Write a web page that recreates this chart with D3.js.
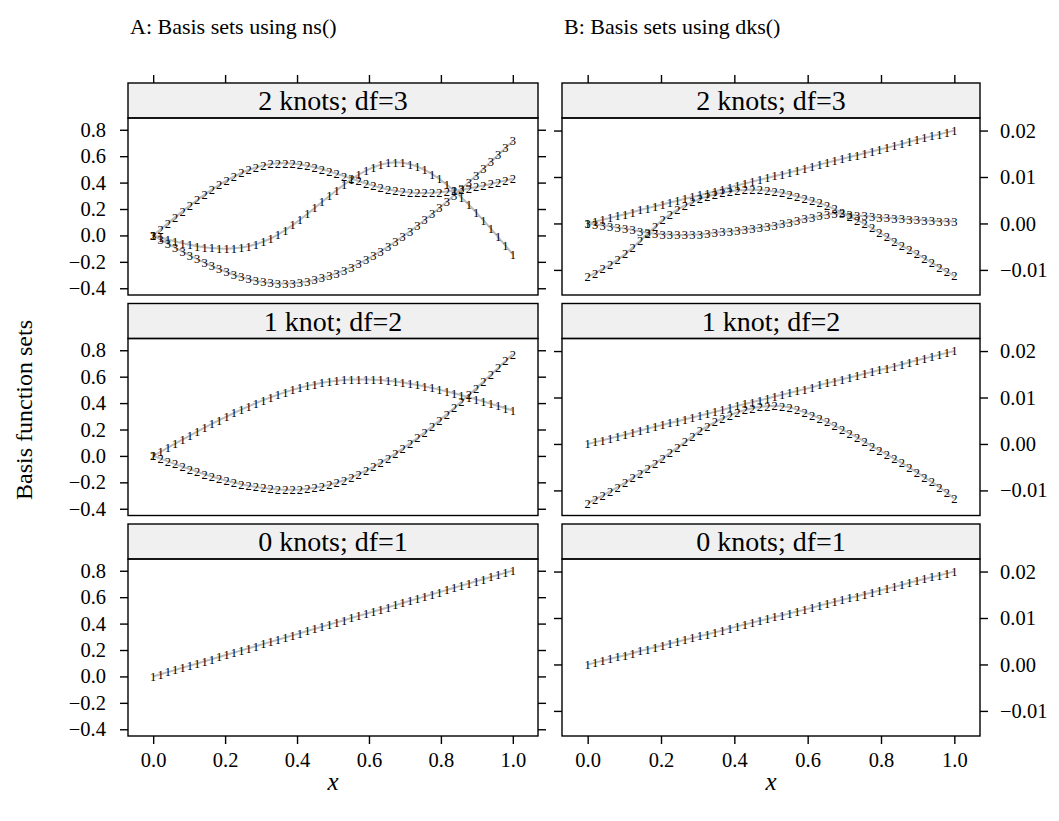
<!DOCTYPE html>
<html><head><meta charset="utf-8">
<script src="https://cdn.jsdelivr.net/npm/d3@7"></script>
<style>body{margin:0;background:#fff}svg{display:block}</style>
</head><body>
<svg id="chart" width="1059" height="821"></svg>
<script>
// ---------- data ----------
const xVals = [0,0.0204,0.0408,0.0612,0.0816,0.102,0.1224,0.1429,0.1633,0.1837,0.2041,0.2245,0.2449,0.2653,0.2857,0.3061,0.3265,0.3469,0.3673,0.3878,0.4082,0.4286,0.449,0.4694,0.4898,0.5102,0.5306,0.551,0.5714,0.5918,0.6122,0.6327,0.6531,0.6735,0.6939,0.7143,0.7347,0.7551,0.7755,0.7959,0.8163,0.8367,0.8571,0.8776,0.898,0.9184,0.9388,0.9592,0.9796,1];
const xTicks = [0, 0.2, 0.4, 0.6, 0.8, 1.0];
const yTicksA = [-0.4, -0.2, 0, 0.2, 0.4, 0.6, 0.8];
const yTicksB = [-0.01, 0, 0.01, 0.02];
const stripLabels = ["2 knots; df=3", "1 knot; df=2", "0 knots; df=1"];
const titles = ["A: Basis sets using ns()", "B: Basis sets using dks()"];

// A: ns()
const ns3_1 = [0,-0.0155,-0.0306,-0.0451,-0.0586,-0.0708,-0.0813,-0.0898,-0.0961,-0.0997,-0.1003,-0.0977,-0.0914,-0.0812,-0.0666,-0.0475,-0.0234,0.0058,0.0399,0.078,0.1192,0.1626,0.2075,0.253,0.2982,0.3423,0.3845,0.4238,0.4595,0.4907,0.5166,0.5363,0.5489,0.5536,0.5502,0.539,0.5205,0.4954,0.464,0.4269,0.3847,0.3378,0.2868,0.2321,0.1744,0.114,0.0516,-0.0124,-0.0773,-0.1429];
const ns3_2 = [0,0.0465,0.0927,0.1384,0.1831,0.2266,0.2686,0.3088,0.347,0.3827,0.4157,0.4457,0.4724,0.4956,0.5148,0.5298,0.5403,0.5461,0.5473,0.5444,0.5378,0.5281,0.5157,0.5011,0.4848,0.4671,0.4488,0.43,0.4115,0.3936,0.3768,0.3616,0.3484,0.3379,0.33,0.3248,0.322,0.3214,0.323,0.3265,0.3317,0.3385,0.3467,0.3561,0.3666,0.378,0.39,0.4026,0.4155,0.4286];
const ns3_3 = [0,-0.031,-0.0618,-0.0922,-0.1221,-0.1511,-0.1791,-0.2059,-0.2313,-0.2551,-0.2771,-0.2972,-0.315,-0.3304,-0.3432,-0.3532,-0.3602,-0.3641,-0.3647,-0.3622,-0.3567,-0.3482,-0.3368,-0.3227,-0.3059,-0.2865,-0.2646,-0.2403,-0.2136,-0.1847,-0.1536,-0.1204,-0.0852,-0.0482,-0.0093,0.0313,0.0735,0.1171,0.1621,0.2083,0.2557,0.3041,0.3534,0.4035,0.4542,0.5056,0.5574,0.6095,0.6618,0.7143];
const ns2_1 = [0,0.0311,0.0622,0.0931,0.1238,0.1541,0.1841,0.2135,0.2424,0.2706,0.2982,0.3249,0.3507,0.3756,0.3994,0.4221,0.4436,0.4638,0.4827,0.5001,0.5159,0.5302,0.5428,0.5536,0.5625,0.5695,0.5746,0.5779,0.5794,0.5791,0.5773,0.574,0.5692,0.563,0.5556,0.5469,0.5371,0.5263,0.5145,0.5018,0.4883,0.4741,0.4593,0.4439,0.428,0.4117,0.3951,0.3782,0.3612,0.3441];
const ns2_2 = [0,-0.0208,-0.0414,-0.0618,-0.0818,-0.1013,-0.1203,-0.1385,-0.1558,-0.1722,-0.1875,-0.2015,-0.2142,-0.2255,-0.2352,-0.2432,-0.2493,-0.2535,-0.2557,-0.2556,-0.2533,-0.2485,-0.2412,-0.2311,-0.2183,-0.2026,-0.184,-0.1625,-0.1384,-0.1118,-0.0827,-0.0512,-0.0176,0.018,0.0556,0.0951,0.1362,0.1789,0.2231,0.2686,0.3154,0.3632,0.412,0.4616,0.512,0.563,0.6145,0.6663,0.7184,0.7706];
const ns1_1 = [0,0.0164,0.0327,0.0491,0.0655,0.0818,0.0982,0.1145,0.1309,0.1473,0.1636,0.18,0.1964,0.2127,0.2291,0.2454,0.2618,0.2782,0.2945,0.3109,0.3273,0.3436,0.36,0.3763,0.3927,0.4091,0.4254,0.4418,0.4582,0.4745,0.4909,0.5073,0.5236,0.54,0.5563,0.5727,0.5891,0.6054,0.6218,0.6382,0.6545,0.6709,0.6872,0.7036,0.72,0.7363,0.7527,0.7691,0.7854,0.8018];

// B: dks()
const dks_1 = [0,0.0004,0.0008,0.0012,0.0016,0.002,0.0024,0.0029,0.0033,0.0037,0.0041,0.0045,0.0049,0.0053,0.0057,0.0061,0.0065,0.0069,0.0073,0.0078,0.0082,0.0086,0.009,0.0094,0.0098,0.0102,0.0106,0.011,0.0114,0.0118,0.0122,0.0127,0.0131,0.0135,0.0139,0.0143,0.0147,0.0151,0.0155,0.0159,0.0163,0.0167,0.0171,0.0176,0.018,0.0184,0.0188,0.0192,0.0196,0.02];
const dks3_2 = [-0.0115,-0.0107,-0.0098,-0.0089,-0.0078,-0.0066,-0.0052,-0.0037,-0.0022,-0.0007,0.0008,0.0019,0.003,0.0039,0.0046,0.0053,0.0058,0.0063,0.0066,0.0069,0.0071,0.0072,0.0073,0.0072,0.0071,0.0069,0.0066,0.0063,0.0058,0.0054,0.0049,0.0044,0.0038,0.0031,0.0023,0.0015,0.0007,-0.0001,-0.001,-0.002,-0.0029,-0.0039,-0.0048,-0.0057,-0.0066,-0.0075,-0.0085,-0.0094,-0.0104,-0.0113];
const dks3_3 = [0,-0.0002,-0.0004,-0.0006,-0.0009,-0.0011,-0.0014,-0.0017,-0.002,-0.0022,-0.0023,-0.0024,-0.0025,-0.0025,-0.0024,-0.0024,-0.0022,-0.002,-0.0018,-0.0017,-0.0015,-0.0013,-0.0011,-0.0009,-0.0006,-0.0004,-0.0001,0.0002,0.0006,0.001,0.0013,0.0016,0.0019,0.0022,0.0021,0.0019,0.0017,0.0016,0.0015,0.0013,0.0012,0.0011,0.001,0.0009,0.0008,0.0007,0.0006,0.0005,0.0005,0.0004];
const dks2_2 = [-0.0128,-0.0119,-0.0111,-0.0102,-0.0093,-0.0083,-0.0073,-0.0063,-0.0053,-0.0042,-0.0031,-0.0019,-0.0008,0.0004,0.0016,0.0028,0.0038,0.0047,0.0055,0.0062,0.0068,0.0073,0.0077,0.008,0.0081,0.0082,0.0081,0.0079,0.0074,0.0068,0.0062,0.0055,0.0047,0.0039,0.0031,0.0023,0.0014,0.0005,-0.0005,-0.0014,-0.0023,-0.0032,-0.0041,-0.0051,-0.0061,-0.0072,-0.0082,-0.0093,-0.0105,-0.0118];

const panelSeries = [
  [[ns3_1, ns3_2, ns3_3], [dks_1, dks3_2, dks3_3]],
  [[ns2_1, ns2_2],        [dks_1, dks2_2]],
  [[ns1_1],               [dks_1]]
];

// ---------- layout ----------
const FONT = "'Liberation Serif','Times New Roman',serif";
const svg = d3.select("#chart");
const cols = [
  {left: 128, right: 538, ydom: [-0.451, 0.889], ticks: yTicksA, fmt: d3.format(".1f"), labelSide: "left"},
  {left: 562, right: 980, ydom: [-0.0154, 0.0227], ticks: yTicksB, fmt: d3.format(".2f"), labelSide: "right"}
];
const stripTops = [83, 303.5, 524];
const stripH = 35, panelH = 177, tickLen = 8;

cols.forEach((c, ci) => {
  const x = d3.scaleLinear().domain([-0.07, 1.07]).range([c.left, c.right]);
  svg.append("text").attr("x", c.left + 2).attr("y", 34)
    .attr("font-family", FONT).attr("font-size", 22).attr("fill", "#000")
    .text(titles[ci]);
  const topAxis = d3.axisTop(x).tickValues(xTicks).tickSize(tickLen).tickFormat("");
  const gt = svg.append("g").attr("transform", `translate(0,${stripTops[0]})`).call(topAxis);
  gt.select(".domain").remove();
  gt.selectAll("line").attr("stroke-width", 1.4);

  stripTops.forEach((st, ri) => {
    const pTop = st + stripH;
    const y = d3.scaleLinear().domain(c.ydom).range([pTop + panelH, pTop]);
    svg.append("rect").attr("x", c.left).attr("y", st).attr("width", c.right - c.left).attr("height", stripH)
      .attr("fill", "#f0f0f0").attr("stroke", "#000").attr("stroke-width", 1.4);
    svg.append("text").attr("x", (c.left + c.right) / 2).attr("y", st + 27)
      .attr("text-anchor", "middle").attr("font-family", FONT).attr("font-size", 28)
      .text(stripLabels[ri]);

    const series = panelSeries[ri][ci];
    const line = d3.line().x((d, i) => x(xVals[i])).y(d => y(d));
    const g = svg.append("g");
    series.forEach(s => {
      g.append("path").datum(s).attr("d", line).attr("fill", "none")
        .attr("stroke", "#bdbdbd").attr("stroke-width", 2);
    });
    series.forEach((s, k) => {
      g.selectAll(null).data(s).enter().append("text")
        .attr("x", (d, i) => x(xVals[i])).attr("y", d => y(d))
        .attr("text-anchor", "middle").attr("dy", "0.35em")
        .attr("font-family", FONT).attr("font-size", 12.5).attr("fill", "#000")
        .text(String(k + 1));
    });
    svg.append("rect").attr("x", c.left).attr("y", pTop).attr("width", c.right - c.left).attr("height", panelH)
      .attr("fill", "none").attr("stroke", "#000").attr("stroke-width", 1.4);

    const la = d3.axisLeft(y).tickValues(c.ticks).tickSize(tickLen).tickPadding(14).tickFormat(c.fmt);
    const ra = d3.axisRight(y).tickValues(c.ticks).tickSize(tickLen).tickPadding(12).tickFormat(c.fmt);
    if (c.labelSide === "right") la.tickFormat(""); else ra.tickFormat("");
    const gl = svg.append("g").attr("transform", `translate(${c.left},0)`).call(la);
    const gr = svg.append("g").attr("transform", `translate(${c.right},0)`).call(ra);
    [gl, gr].forEach(a => {
      a.select(".domain").remove();
      a.selectAll("line").attr("stroke-width", 1.4);
      a.selectAll("text").attr("font-family", FONT).attr("font-size", 20.5).attr("fill", "#000");
    });

    if (ri === 2) {
      const ba = d3.axisBottom(x).tickValues(xTicks).tickSize(tickLen).tickPadding(8).tickFormat(d3.format(".1f"));
      const gb = svg.append("g").attr("transform", `translate(0,${pTop + panelH})`).call(ba);
      gb.select(".domain").remove();
      gb.selectAll("line").attr("stroke-width", 1.4);
      gb.selectAll("text").attr("font-family", FONT).attr("font-size", 20.5).attr("fill", "#000");
      svg.append("text").attr("x", (c.left + c.right) / 2).attr("y", 790)
        .attr("text-anchor", "middle").attr("font-family", FONT).attr("font-size", 25)
        .attr("font-style", "italic").text("x");
    }
  });
});

svg.append("text").attr("transform", "translate(32,410) rotate(-90)")
  .attr("text-anchor", "middle").attr("font-family", FONT).attr("font-size", 24)
  .text("Basis function sets");
</script>
</body></html>
